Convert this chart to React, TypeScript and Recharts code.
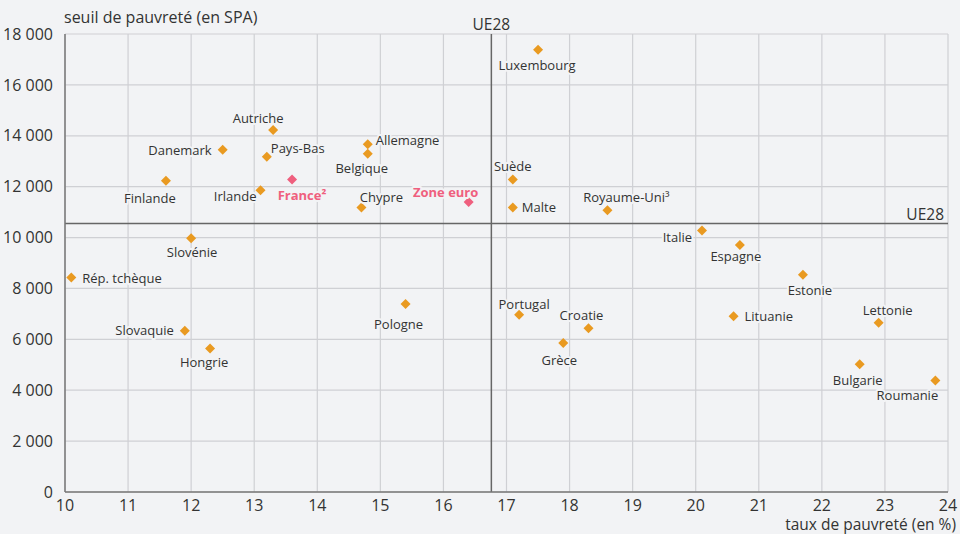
import React from "react";
import {
  ScatterChart,
  Scatter,
  XAxis,
  YAxis,
  CartesianGrid,
  ReferenceLine,
} from "recharts";

/* ================================================================
   Taux de pauvreté vs seuil de pauvreté (SPA), pays de l'UE28
   ================================================================ */

const countries = [
  "Autriche", "Danemark", "Pays-Bas", "Allemagne", "Belgique", "Finlande",
  "Irlande", "Chypre", "Slovénie", "Luxembourg", "Suède", "Malte",
  "Royaume-Uni³", "Italie", "Espagne", "Rép. tchèque", "Pologne",
  "Slovaquie", "Hongrie", "Estonie", "Portugal", "Croatie", "Grèce",
  "Lituanie", "Lettonie", "Bulgarie", "Roumanie",
];
const povertyRate = [
  13.3, 12.5, 13.2, 14.8, 14.8, 11.6,
  13.1, 14.7, 12.0, 17.5, 17.1, 17.1,
  18.6, 20.1, 20.7, 10.1, 15.4,
  11.9, 12.3, 21.7, 17.2, 18.3, 17.9,
  20.6, 22.9, 22.6, 23.8,
];
const threshold = [
  14230, 13450, 13180, 13670, 13290, 12230,
  11860, 11180, 9970, 17380, 12280, 11180,
  11070, 10280, 9710, 8430, 7390,
  6340, 5640, 8540, 6970, 6440, 5860,
  6910, 6650, 5020, 4380,
];

const highlightNames = ["France²", "Zone euro"];
const highlightRate = [13.6, 16.4];
const highlightThreshold = [12280, 11400];

const EU28_RATE = 16.76;
const EU28_THRESHOLD = 10550;

const xTicks = [10, 11, 12, 13, 14, 15, 16, 17, 18, 19, 20, 21, 22, 23, 24];
const yTicks = [0, 2000, 4000, 6000, 8000, 10000, 12000, 14000, 16000, 18000];

// label offset from the marker: [dx, dy, anchor]
const LABEL_PLACE: Record<string, [number, number, "start" | "middle" | "end"]> = {
  Autriche: [-15, -12, "middle"],
  Danemark: [-11, 0, "end"],
  "Pays-Bas": [4, -9, "start"],
  Allemagne: [8, -4, "start"],
  Belgique: [-6, 14, "middle"],
  Finlande: [-16, 17, "middle"],
  Irlande: [-4, 6, "end"],
  Chypre: [20, -11, "middle"],
  "Slovénie": [1, 14, "middle"],
  Luxembourg: [-1, 15, "middle"],
  "Suède": [0, -14, "middle"],
  Malte: [9, -1, "start"],
  "Royaume-Uni³": [19, -13, "middle"],
  Italie: [-10, 7, "end"],
  Espagne: [-4, 11, "middle"],
  "Rép. tchèque": [11, 0, "start"],
  Pologne: [-7, 20, "middle"],
  Slovaquie: [-11, -1, "end"],
  Hongrie: [-6, 14, "middle"],
  Estonie: [7, 15, "middle"],
  Portugal: [5, -11, "middle"],
  Croatie: [-7, -13, "middle"],
  "Grèce": [-4, 17, "middle"],
  Lituanie: [11, 0, "start"],
  Lettonie: [9, -13, "middle"],
  Bulgarie: [-2, 16, "middle"],
  Roumanie: [-28, 14, "middle"],
  "France²": [10, 15, "middle"],
  "Zone euro": [-23, -10, "middle"],
};

const BG = "#f2f3f5";
const ORANGE = "#e99a21";
const PINK = "#ef5f7e";
const TEXT = "#333333";
const FONT = "'Open Sans', 'Noto Sans', sans-serif";

const countryData = countries.map((name, i) => ({
  name,
  x: povertyRate[i],
  y: threshold[i],
}));
const highlightData = highlightNames.map((name, i) => ({
  name,
  x: highlightRate[i],
  y: highlightThreshold[i],
}));

const makeMarker = (color: string, bold: boolean) => (props: any) => {
  const { cx, cy, payload } = props;
  if (cx == null || cy == null) return null;
  const place = LABEL_PLACE[payload.name] ?? [0, -12, "middle"];
  const r = 5;
  return (
    <g>
      <path
        d={`M${cx},${cy - r} L${cx + r},${cy} L${cx},${cy + r} L${cx - r},${cy} Z`}
        fill={color}
      />
      <text
        x={cx + place[0]}
        y={cy + place[1]}
        textAnchor={place[2]}
        dominantBaseline="central"
        fontSize={13}
        fontFamily={FONT}
        fontWeight={bold ? 700 : 400}
        fill={bold ? color : TEXT}
        stroke={BG}
        strokeWidth={4}
        strokeLinejoin="round"
        paintOrder="stroke"
      >
        {payload.name}
      </text>
    </g>
  );
};

const fmtThousands = (v: number) =>
  v === 0 ? "0" : `${Math.floor(v / 1000)} ${String(v % 1000).padStart(3, "0")}`;

export default function App() {
  return (
    <div
      style={{
        position: "fixed",
        top: 0,
        left: 0,
        width: 960,
        height: 534,
        background: BG,
        overflow: "hidden",
      }}
    >
      <ScatterChart
        width={960}
        height={534}
        margin={{ top: 34, right: 12, bottom: 12, left: 5 }}
        style={{ fontFamily: FONT }}
      >
        <CartesianGrid stroke="#cfd0d4" strokeWidth={1.2} />
        <XAxis
          type="number"
          dataKey="x"
          domain={[10, 24]}
          ticks={xTicks}
          interval={0}
          height={30}
          tick={{ fill: TEXT, fontSize: 16 }}
          tickLine={false}
          axisLine={{ stroke: "#777", strokeWidth: 1.5 }}
          tickMargin={2}
        />
        <YAxis
          type="number"
          dataKey="y"
          domain={[0, 18000]}
          ticks={yTicks}
          interval={0}
          width={60}
          tick={{ fill: TEXT, fontSize: 16 }}
          tickLine={false}
          axisLine={{ stroke: "#777", strokeWidth: 1.5 }}
          tickFormatter={fmtThousands}
          tickMargin={6}
        />
        <ReferenceLine
          x={EU28_RATE}
          stroke="#666"
          strokeWidth={1.5}
          label={{ value: "UE28", position: "top", fill: TEXT, fontSize: 15.5, offset: 4 }}
        />
        <ReferenceLine
          y={EU28_THRESHOLD}
          stroke="#666"
          strokeWidth={1.5}
          label={{
            value: "UE28",
            position: "insideBottomRight",
            fill: TEXT,
            fontSize: 15.5,
            offset: 4,
          }}
        />
        <Scatter
          data={countryData}
          shape={makeMarker(ORANGE, false)}
          isAnimationActive={false}
        />
        <Scatter
          data={highlightData}
          shape={makeMarker(PINK, true)}
          isAnimationActive={false}
        />
        <text x={64} y={23} fontSize={16} fill={TEXT} fontFamily={FONT}>
          seuil de pauvreté (en SPA)
        </text>
        <text x={956} y={530} textAnchor="end" fontSize={15.5} fill={TEXT} fontFamily={FONT}>
          taux de pauvreté (en %)
        </text>
      </ScatterChart>
    </div>
  );
}
